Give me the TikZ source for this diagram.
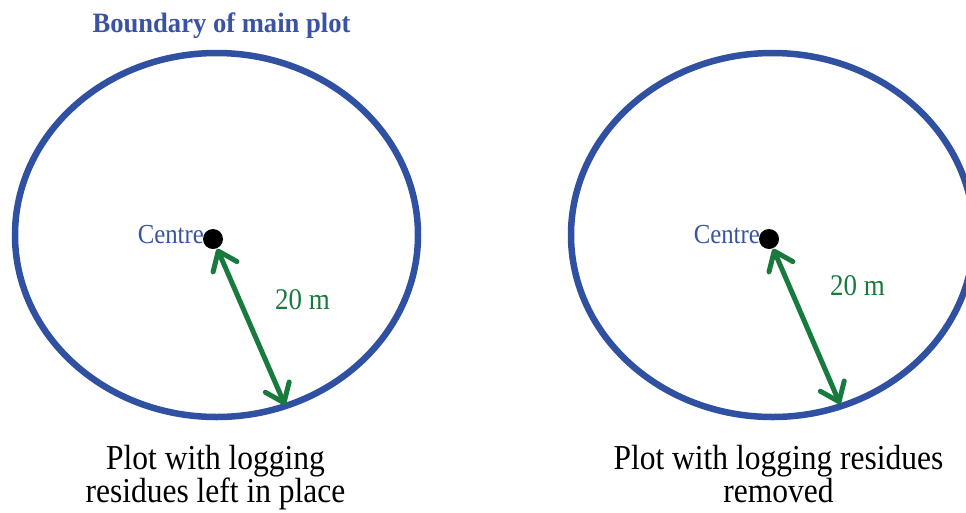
\documentclass[tikz,border=0pt]{standalone}
\usepackage{fontspec}
\setmainfont{Liberation Serif}
\usetikzlibrary{arrows.meta}
\definecolor{plotblue}{RGB}{48,80,162}
\definecolor{labelblue}{RGB}{58,82,164}
\definecolor{arrgreen}{RGB}{24,122,60}
\newcommand{\hsq}[1]{\scalebox{0.9}[1]{#1}}
\tikzset{barb/.tip={Straight Barb[length=17pt,width=26pt,round]}}
\begin{document}
\begin{tikzpicture}[x=1pt,y=-1pt,
  boundary/.style={draw=plotblue,line width=6.5pt},
  centredot/.style={circle,fill=black,minimum size=20pt,inner sep=0pt},
  centrelabel/.style={text=labelblue,font=\fontsize{27.5}{30}\selectfont,inner sep=0pt,anchor=base east},
  radiusarrow/.style={draw=arrgreen,line width=5pt,barb-barb,shorten <=0.5pt},
  distlabel/.style={text=arrgreen,font=\fontsize{30}{34}\selectfont,inner sep=0pt,anchor=base west},
  caption/.style={font=\fontsize{35}{33}\selectfont,align=center,inner sep=0pt,anchor=north},
  titlelabel/.style={text=labelblue,font=\bfseries\fontsize{28}{32}\selectfont,inner sep=0pt,anchor=base}
]
\useasboundingbox (0,0) rectangle (966,512);
\begin{scope}
\clip (0,0) rectangle (966,512);
% left plot
\draw[boundary] (216.5,235) ellipse [x radius=201.5pt, y radius=182pt];
% right plot
\draw[boundary] (772.5,235) ellipse [x radius=201.5pt, y radius=182pt];
\end{scope}

\node[titlelabel] (title) at (221.5,32) {\scalebox{0.95}[1]{Boundary of main plot}};

\node[centredot] (dotL) at (213,239) {};
\node[centrelabel] (cenL) at (204,243) {\hsq{Centre}};
\coordinate (tipL) at (285,405);
\draw[radiusarrow] (dotL) -- (tipL);
\node[distlabel] (distL) at (275,309) {\hsq{20 m}};
\node[caption] (capL) at (215.5,445) {\hsq{Plot with logging}\\\hsq{residues left in place}};

\node[centredot] (dotR) at (769,239) {};
\node[centrelabel] (cenR) at (760,243) {\hsq{Centre}};
\coordinate (tipR) at (840,404);
\draw[radiusarrow] (dotR) -- (tipR);
\node[distlabel] (distR) at (830,295) {\hsq{20 m}};
\node[caption] (capR) at (778.5,445) {\hsq{Plot with logging residues}\\\hsq{removed}};
\end{tikzpicture}
\end{document}
